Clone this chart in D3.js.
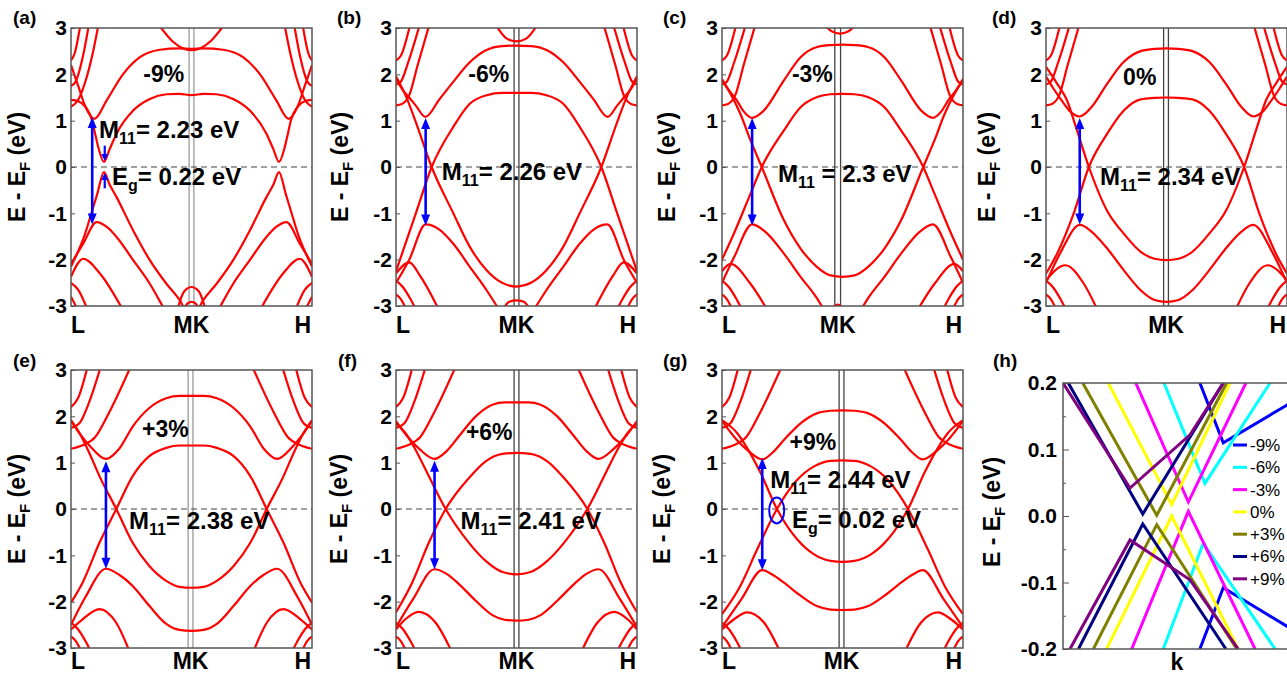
<!DOCTYPE html>
<html>
<head>
<meta charset="utf-8">
<script src="https://cdn.jsdelivr.net/npm/d3@7"></script>
<style>
  body { margin: 0; background: #fff; }
  svg { display: block; font-family: "Liberation Sans", Arial, sans-serif; }
</style>
</head>
<body>
<div id="chart"></div>
<script>
// ---- data: band energies (eV) as [k, E] knots, k = 0 at L, 1 at H ----
const panelNames = ["(a)", "(b)", "(c)", "(d)", "(e)", "(f)", "(g)", "(h)"];
const strainLabels = ["-9%", "-6%", "-3%", "0%", "+3%", "+6%", "+9%"];
const m11Values = ["= 2.23 eV", "= 2.26 eV", " = 2.3 eV", "= 2.34 eV", "= 2.38 eV", "= 2.41 eV", "= 2.44 eV"];
const egValues = { 0: "= 0.22 eV", 6: "= 0.02 eV" };
const yTicks = [-3, -2, -1, 0, 1, 2, 3];

const bandsA = [
  [[0,1.45],[0.03,1.42],[0.06,1.3],[0.088,1.0],[0.1,0.72],[0.113,0.43],[0.137,0.11],[0.16,0.38],[0.189,0.72],[0.258,1.22],[0.327,1.47],[0.396,1.57],[0.45,1.58],[0.5,1.55],[0.55,1.58],[0.604,1.57],[0.673,1.47],[0.742,1.22],[0.811,0.72],[0.84,0.38],[0.863,0.11],[0.887,0.43],[0.9,0.72],[0.912,1.0],[0.94,1.3],[0.97,1.42],[1,1.45]],
  [[0,-2.15],[0.013,-2.01],[0.054,-1.51],[0.088,-0.94],[0.109,-0.58],[0.137,-0.11],[0.16,-0.38],[0.189,-0.65],[0.258,-1.37],[0.327,-2.01],[0.396,-2.52],[0.452,-2.88],[0.5,-3.3],[0.548,-2.88],[0.604,-2.52],[0.673,-2.01],[0.742,-1.37],[0.811,-0.65],[0.84,-0.38],[0.863,-0.11],[0.891,-0.58],[0.912,-0.94],[0.946,-1.51],[0.987,-2.01],[1,-2.15]],
  [[0,2.2],[0.03,1.75],[0.06,1.3],[0.097,1.04],[0.148,1.44],[0.217,2.01],[0.286,2.37],[0.369,2.53],[0.45,2.56],[0.5,2.55],[0.55,2.56],[0.631,2.53],[0.714,2.37],[0.783,2.01],[0.852,1.44],[0.903,1.04],[0.94,1.3],[0.97,1.75],[1,2.2]],
  [[0,-2.09],[0.051,-1.65],[0.106,-1.19],[0.15,-1.3],[0.189,-1.51],[0.258,-2.01],[0.327,-2.52],[0.369,-2.9],[0.39,-3.1]],
  [[0.61,-3.1],[0.631,-2.9],[0.673,-2.52],[0.742,-2.01],[0.811,-1.51],[0.85,-1.3],[0.894,-1.19],[0.949,-1.65],[1,-2.09]],
  [[0,-2.37],[0.051,-1.98],[0.12,-2.3],[0.217,-3.1]],
  [[0.783,-3.1],[0.88,-2.3],[0.949,-1.98],[1,-2.37]],
  [[0.36,3.1],[0.42,2.72],[0.47,2.55],[0.5,2.52],[0.53,2.55],[0.58,2.72],[0.64,3.1]],
  [[0.44,-3.1],[0.47,-2.68],[0.5,-2.59],[0.53,-2.68],[0.56,-3.1]],
  [[0.465,-3.1],[0.485,-2.94],[0.5,-2.91],[0.515,-2.94],[0.535,-3.1]]
];
const edgeBandsA = [
  [[0,1.3],[0.03,1.45],[0.06,1.85],[0.09,2.45],[0.115,3.1]],
  [[0,1.75],[0.02,1.85],[0.05,2.4],[0.075,3.1]],
  [[0,2.3],[0.015,2.45],[0.04,3.1]],
  [[0.885,3.1],[0.91,2.45],[0.94,1.85],[0.97,1.45],[1,1.3]],
  [[0.925,3.1],[0.95,2.4],[0.98,1.85],[1,1.75]],
  [[0.96,3.1],[0.985,2.45],[1,2.3]],
  [[0,-2.5],[0.03,-2.65],[0.07,-3.1]],
  [[0,-2.8],[0.03,-3.1]],
  [[0.93,-3.1],[0.97,-2.65],[1,-2.5]],
  [[0.97,-3.1],[1,-2.8]]
];

const bandsB = [
  [[0,-2.25],[0.083,-0.99],[0.148,0],[0.237,0.86],[0.307,1.37],[0.376,1.55],[0.44,1.6],[0.5,1.6],[0.56,1.6],[0.624,1.55],[0.693,1.37],[0.763,0.86],[0.852,0],[0.917,-0.99],[1,-2.25]],
  [[0,1.96],[0.041,1.53],[0.083,0.96],[0.148,0],[0.237,-0.99],[0.307,-1.73],[0.376,-2.23],[0.44,-2.5],[0.5,-2.58],[0.56,-2.5],[0.624,-2.23],[0.693,-1.73],[0.763,-0.99],[0.852,0],[0.917,0.96],[0.959,1.53],[1,1.96]],
  [[0,1.9],[0.03,1.65],[0.055,1.5],[0.083,1.32],[0.122,1.08],[0.18,1.46],[0.235,1.82],[0.304,2.25],[0.373,2.52],[0.44,2.61],[0.5,2.62],[0.56,2.61],[0.627,2.52],[0.696,2.25],[0.765,1.82],[0.82,1.46],[0.878,1.08],[0.917,1.32],[0.945,1.5],[0.97,1.65],[1,1.9]],
  [[0,-2.5],[0.055,-2.0],[0.123,-1.24],[0.18,-1.35],[0.237,-1.65],[0.307,-2.16],[0.376,-2.66],[0.43,-3.1]],
  [[0.57,-3.1],[0.624,-2.66],[0.693,-2.16],[0.763,-1.65],[0.82,-1.35],[0.877,-1.24],[0.945,-2.0],[1,-2.5]],
  [[0,-2.3],[0.055,-2.06],[0.1,-2.35],[0.18,-3.1]],
  [[0.82,-3.1],[0.9,-2.35],[0.945,-2.06],[1,-2.3]],
  [[0.41,3.1],[0.46,2.77],[0.5,2.71],[0.54,2.77],[0.59,3.1]],
  [[0.44,-3.1],[0.47,-2.91],[0.5,-2.88],[0.53,-2.91],[0.56,-3.1]]
];

const bandsC = [
  [[0,-2.0],[0.049,-1.44],[0.118,-0.58],[0.165,0],[0.257,0.79],[0.326,1.29],[0.395,1.51],[0.45,1.57],[0.5,1.58],[0.55,1.57],[0.605,1.51],[0.674,1.29],[0.743,0.79],[0.835,0],[0.882,-0.58],[0.951,-1.44],[1,-2.0]],
  [[0,1.87],[0.035,1.58],[0.076,1.15],[0.118,0.58],[0.165,0],[0.257,-1.15],[0.326,-1.76],[0.395,-2.16],[0.45,-2.34],[0.5,-2.37],[0.55,-2.34],[0.605,-2.16],[0.674,-1.76],[0.743,-1.15],[0.835,0],[0.882,0.58],[0.924,1.15],[0.965,1.58],[1,1.87]],
  [[0,1.9],[0.03,1.65],[0.06,1.45],[0.09,1.2],[0.125,1.06],[0.17,1.2],[0.257,1.87],[0.326,2.37],[0.395,2.59],[0.45,2.63],[0.5,2.64],[0.55,2.63],[0.605,2.59],[0.674,2.37],[0.743,1.87],[0.83,1.2],[0.875,1.06],[0.91,1.2],[0.94,1.45],[0.97,1.65],[1,1.9]],
  [[0,-2.5],[0.05,-1.95],[0.125,-1.24],[0.18,-1.4],[0.257,-1.87],[0.326,-2.37],[0.395,-2.84],[0.425,-3.1]],
  [[0.575,-3.1],[0.605,-2.84],[0.674,-2.37],[0.743,-1.87],[0.82,-1.4],[0.875,-1.24],[0.95,-1.95],[1,-2.5]],
  [[0,-2.25],[0.035,-2.09],[0.118,-2.52],[0.19,-3.1]],
  [[0.81,-3.1],[0.882,-2.52],[0.965,-2.09],[1,-2.25]],
  [[0.42,3.1],[0.455,2.93],[0.49,2.88],[0.525,2.93],[0.56,3.1]],
  [[0.45,-3.1],[0.48,-2.97],[0.51,-3.1]]
];

const bandsD = [
  [[0,-2.3],[0.046,-1.87],[0.115,-1.0],[0.178,0],[0.254,0.72],[0.323,1.22],[0.393,1.46],[0.45,1.49],[0.5,1.5],[0.55,1.49],[0.607,1.46],[0.677,1.22],[0.746,0.72],[0.822,0],[0.885,-1.0],[0.954,-1.87],[1,-2.3]],
  [[0,2.16],[0.046,1.8],[0.087,1.44],[0.122,0.9],[0.178,0],[0.254,-0.95],[0.323,-1.44],[0.393,-1.83],[0.45,-1.98],[0.5,-2.01],[0.55,-1.98],[0.607,-1.83],[0.677,-1.44],[0.746,-0.95],[0.822,0],[0.878,0.9],[0.913,1.44],[0.954,1.8],[1,2.16]],
  [[0,1.95],[0.03,1.7],[0.07,1.4],[0.1,1.2],[0.14,1.09],[0.19,1.3],[0.254,1.8],[0.323,2.27],[0.393,2.5],[0.45,2.55],[0.5,2.56],[0.55,2.55],[0.607,2.5],[0.677,2.27],[0.746,1.8],[0.81,1.3],[0.86,1.09],[0.9,1.2],[0.93,1.4],[0.97,1.7],[1,1.95]],
  [[0,-2.5],[0.06,-1.85],[0.14,-1.25],[0.19,-1.4],[0.254,-1.76],[0.323,-2.23],[0.393,-2.66],[0.45,-2.87],[0.5,-2.91],[0.55,-2.87],[0.607,-2.66],[0.677,-2.23],[0.746,-1.76],[0.81,-1.4],[0.86,-1.25],[0.94,-1.85],[1,-2.5]],
  [[0,-2.45],[0.08,-2.12],[0.157,-2.52],[0.215,-3.1]],
  [[0.785,-3.1],[0.843,-2.52],[0.92,-2.12],[1,-2.45]]
];

const bandsE = [
  [[0,-2.02],[0.048,-1.59],[0.118,-0.73],[0.188,0],[0.256,0.71],[0.325,1.14],[0.395,1.32],[0.45,1.37],[0.5,1.37],[0.55,1.37],[0.605,1.32],[0.675,1.14],[0.744,0.71],[0.812,0],[0.882,-0.73],[0.952,-1.59],[1,-2.02]],
  [[0,1.92],[0.035,1.64],[0.076,1.21],[0.118,0.71],[0.188,0],[0.256,-0.73],[0.325,-1.23],[0.395,-1.55],[0.45,-1.68],[0.5,-1.7],[0.55,-1.68],[0.605,-1.55],[0.675,-1.23],[0.744,-0.73],[0.812,0],[0.882,0.71],[0.924,1.21],[0.965,1.64],[1,1.92]],
  [[0,1.9],[0.04,1.6],[0.08,1.35],[0.145,1.08],[0.2,1.3],[0.256,1.78],[0.325,2.18],[0.395,2.39],[0.45,2.44],[0.5,2.44],[0.55,2.44],[0.605,2.39],[0.675,2.18],[0.744,1.78],[0.8,1.3],[0.855,1.08],[0.92,1.35],[0.96,1.6],[1,1.9]],
  [[0,-2.5],[0.06,-1.9],[0.145,-1.29],[0.2,-1.42],[0.256,-1.66],[0.325,-2.09],[0.395,-2.48],[0.45,-2.61],[0.5,-2.63],[0.55,-2.61],[0.605,-2.48],[0.675,-2.09],[0.744,-1.66],[0.8,-1.42],[0.855,-1.29],[0.94,-1.9],[1,-2.5]],
  [[0,-2.6],[0.048,-2.38],[0.118,-2.16],[0.187,-2.45],[0.245,-3.1]],
  [[0.755,-3.1],[0.813,-2.45],[0.882,-2.16],[0.952,-2.38],[1,-2.6]]
];

const bandsF = [
  [[0,-2.23],[0.067,-1.59],[0.136,-0.73],[0.206,0],[0.303,0.67],[0.372,1.03],[0.442,1.19],[0.5,1.21],[0.558,1.19],[0.628,1.03],[0.697,0.67],[0.794,0],[0.864,-0.73],[0.933,-1.59],[1,-2.23]],
  [[0,1.85],[0.039,1.64],[0.081,1.28],[0.136,0.71],[0.206,0],[0.303,-0.73],[0.372,-1.12],[0.442,-1.36],[0.5,-1.41],[0.558,-1.36],[0.628,-1.12],[0.697,-0.73],[0.794,0],[0.864,0.71],[0.919,1.28],[0.961,1.64],[1,1.85]],
  [[0,1.9],[0.05,1.55],[0.1,1.28],[0.16,1.08],[0.21,1.25],[0.261,1.57],[0.331,2.0],[0.4,2.25],[0.45,2.3],[0.5,2.3],[0.55,2.3],[0.6,2.25],[0.669,2.0],[0.739,1.57],[0.79,1.25],[0.84,1.08],[0.9,1.28],[0.95,1.55],[1,1.9]],
  [[0,-2.55],[0.07,-1.95],[0.16,-1.3],[0.21,-1.4],[0.261,-1.62],[0.331,-1.98],[0.4,-2.29],[0.45,-2.39],[0.5,-2.41],[0.55,-2.39],[0.6,-2.29],[0.669,-1.98],[0.739,-1.62],[0.79,-1.4],[0.84,-1.3],[0.93,-1.95],[1,-2.55]],
  [[0,-2.6],[0.039,-2.38],[0.094,-2.22],[0.164,-2.45],[0.233,-3.1]],
  [[0.767,-3.1],[0.836,-2.45],[0.906,-2.22],[0.961,-2.38],[1,-2.6]]
];

const bandsG = [
  [[0,-2.27],[0.076,-1.66],[0.146,-0.87],[0.227,-0.01],[0.3125,0.63],[0.382,0.92],[0.451,1.04],[0.5,1.05],[0.549,1.04],[0.618,0.92],[0.6875,0.63],[0.773,-0.01],[0.854,-0.87],[0.924,-1.66],[1,-2.27]],
  [[0,1.92],[0.0625,1.64],[0.104,1.32],[0.16,0.78],[0.227,0.01],[0.3125,-0.66],[0.382,-0.98],[0.451,-1.12],[0.5,-1.14],[0.549,-1.12],[0.618,-0.98],[0.6875,-0.66],[0.773,0.01],[0.84,0.78],[0.896,1.32],[0.9375,1.64],[1,1.92]],
  [[0,1.9],[0.06,1.5],[0.11,1.25],[0.167,1.07],[0.21,1.22],[0.257,1.49],[0.326,1.85],[0.396,2.07],[0.45,2.12],[0.5,2.13],[0.55,2.12],[0.604,2.07],[0.674,1.85],[0.743,1.49],[0.79,1.22],[0.833,1.07],[0.89,1.25],[0.94,1.5],[1,1.9]],
  [[0,-2.55],[0.08,-1.95],[0.167,-1.32],[0.21,-1.42],[0.257,-1.59],[0.326,-1.87],[0.396,-2.1],[0.45,-2.17],[0.5,-2.18],[0.55,-2.17],[0.604,-2.1],[0.674,-1.87],[0.743,-1.59],[0.79,-1.42],[0.833,-1.32],[0.92,-1.95],[1,-2.55]],
  [[0,-2.6],[0.05,-2.38],[0.104,-2.23],[0.174,-2.45],[0.243,-3.1]],
  [[0.757,-3.1],[0.826,-2.45],[0.896,-2.23],[0.95,-2.38],[1,-2.6]]
];

// steep bands crowding the L and H edges
const edgeBandsBD = [
  [[0,1.33],[0.025,1.36],[0.055,1.55],[0.09,2.2],[0.14,3.1]],
  [[0,1.78],[0.02,1.84],[0.05,2.25],[0.1,3.1]],
  [[0,2.3],[0.02,2.4],[0.06,3.1]],
  [[0.86,3.1],[0.91,2.2],[0.945,1.55],[0.975,1.36],[1,1.33]],
  [[0.9,3.1],[0.95,2.25],[0.98,1.84],[1,1.78]],
  [[0.94,3.1],[0.98,2.4],[1,2.3]],
  [[0,-2.45],[0.03,-2.6],[0.06,-2.85],[0.085,-3.1]],
  [[0,-2.75],[0.02,-2.85],[0.045,-3.1]],
  [[0.915,-3.1],[0.94,-2.85],[0.97,-2.6],[1,-2.45]],
  [[0.955,-3.1],[0.98,-2.85],[1,-2.75]]
];
const edgeBandsEG = [
  [[0,1.3],[0.05,1.38],[0.1,1.55],[0.16,2.1],[0.25,3.1]],
  [[0,1.75],[0.035,1.85],[0.075,2.3],[0.125,3.1]],
  [[0,2.2],[0.03,2.4],[0.07,3.1]],
  [[0.75,3.1],[0.84,2.1],[0.9,1.55],[0.95,1.38],[1,1.3]],
  [[0.875,3.1],[0.925,2.3],[0.965,1.85],[1,1.75]],
  [[0.93,3.1],[0.97,2.4],[1,2.2]],
  [[0,-2.45],[0.03,-2.6],[0.06,-2.85],[0.085,-3.1]],
  [[0,-2.75],[0.02,-2.85],[0.045,-3.1]],
  [[0.915,-3.1],[0.94,-2.85],[0.97,-2.6],[1,-2.45]],
  [[0.955,-3.1],[0.98,-2.85],[1,-2.75]]
];

// M and K positions along k for each panel
const mkK = [[0.49,0.51],[0.49,0.51],[0.468,0.492],[0.488,0.508],[0.486,0.506],[0.49,0.51],[0.486,0.506]];
// M11 transition: k of arrow, top (CB) and bottom (VB) energies
const arrowK = [0.088, 0.123, 0.125, 0.14, 0.145, 0.16, 0.167];
const arrowTop = [1.08, 1.06, 1.06, 1.06, 1.03, 1.04, 1.1];
const arrowBottom = [-1.24, -1.26, -1.26, -1.24, -1.29, -1.30, -1.32];

// (h) zoom near EF: conduction / valence branches per strain
const zoomLabels = ["-9%", "-6%", "-3%", "0%", "+3%", "+6%", "+9%"];
const zoomColors = ["#0000ff", "#00ffff", "#ff00ff", "#ffff00", "#808000", "#000080", "#800080"];
const zoomCB = [
  [[0.568,0.2],[0.665,0.11],[0.93,0.167],[1,0.182]],
  [[0.419,0.2],[0.589,0.049],[0.859,0.2]],
  [[0.302,0.2],[0.52,0.021],[0.759,0.2]],
  [[0.188,0.2],[0.451,0.017],[0.693,0.2]],
  [[0.082,0.2],[0.389,0.001],[0.679,0.2]],
  [[0.022,0.2],[0.331,0.003],[0.665,0.2]],
  [[0,0.2],[0.278,0.042],[0.527,0.122],[0.665,0.2]]
];
const zoomVB = [
  [[0.568,-0.2],[0.665,-0.108],[0.93,-0.166],[1,-0.18]],
  [[0.416,-0.2],[0.582,-0.041],[0.88,-0.2]],
  [[0.285,-0.2],[0.52,0.007],[0.797,-0.2]],
  [[0.181,-0.2],[0.451,0.0],[0.727,-0.2]],
  [[0.126,-0.2],[0.389,-0.013],[0.721,-0.2]],
  [[0.064,-0.2],[0.331,-0.012],[0.676,-0.2]],
  [[0.029,-0.2],[0.278,-0.036],[0.527,-0.096],[0.727,-0.2]]
];
const zoomTicks = [-0.2, -0.1, 0, 0.1, 0.2];
const zoomMinor = [-0.15, -0.05, 0.05, 0.15];

// ---- layout ----
const W = 1287, H = 676;
const colLeft = [71, 396, 722, 1046], rowTop = [28, 370];
const pw = 241, ph = 278;
const kLabelDy = [27, 21];
const labelX = [13, 337, 663, 992, 13, 338, 663, 993];
const labelY = [24, 24, 24, 24, 367, 367, 367, 367];
const titleDx = [-46, -48, -47, -51, -46, -49, -52];
const strainPos = [[0.3,1.83],[0.3,1.83],[0.29,1.83],[0.32,1.77],[0.295,1.56],[0.29,1.49],[0.28,1.28]];
const m11Pos = [[0.116,0.63],[0.19,-0.28],[0.232,-0.32],[0.224,-0.39],[0.241,-0.44],[0.268,-0.44],[0.2,0.46]];
const egPos = { 0: [0.17,-0.39], 6: [0.29,-0.40] };
const mkColor = ["#999", "#444", "#444", "#444", "#999", "#444", "#444"];
const BLUE = "#0000ff";

const panelBands = [
  bandsA.concat(edgeBandsA), bandsB.concat(edgeBandsBD), bandsC.concat(edgeBandsBD),
  bandsD.concat(edgeBandsBD), bandsE.concat(edgeBandsEG), bandsF.concat(edgeBandsEG),
  bandsG.concat(edgeBandsEG)
];

const svg = d3.select("#chart").append("svg").attr("width", W).attr("height", H);

function yTitle(g, dx, cy) {
  const t = g.append("text")
    .attr("transform", `translate(${dx},${cy}) rotate(-90)`)
    .attr("text-anchor", "middle")
    .attr("font-size", 23).attr("font-weight", "bold");
  t.append("tspan").text("E - E");
  t.append("tspan").attr("font-size", 15).attr("dy", 5).text("F");
  t.append("tspan").attr("dy", -5).text(" (eV)");
}

function arrowHead(g, x0, y0, dir, w, l) {
  // dir -1: tip points up, +1: tip points down
  g.append("path")
    .attr("d", `M${x0},${y0} L${x0 - w / 2},${y0 - dir * l} L${x0 + w / 2},${y0 - dir * l} Z`)
    .attr("fill", BLUE);
}

panelBands.forEach((bands, i) => {
  const row = Math.floor(i / 4);
  const g = svg.append("g")
    .attr("transform", `translate(${colLeft[i % 4]},${rowTop[row]})`);
  const x = d3.scaleLinear().domain([0, 1]).range([0, pw]);
  const y = d3.scaleLinear().domain([-3, 3]).range([ph, 0]);

  g.append("clipPath").attr("id", "clip" + i)
    .append("rect").attr("width", pw).attr("height", ph);

  // MK lines
  mkK[i].forEach(k => {
    g.append("line")
      .attr("x1", x(k)).attr("x2", x(k)).attr("y1", 0).attr("y2", ph)
      .attr("stroke", mkColor[i]).attr("stroke-width", 1.3);
  });

  // Fermi level
  g.append("line")
    .attr("x1", 0).attr("x2", pw).attr("y1", y(0)).attr("y2", y(0))
    .attr("stroke", "#444").attr("stroke-width", 1.2).attr("stroke-dasharray", "6,4");

  const line = d3.line().x(d => x(d[0])).y(d => y(d[1])).curve(d3.curveMonotoneX);
  g.append("g").attr("clip-path", `url(#clip${i})`)
    .selectAll("path").data(bands).enter().append("path")
    .attr("d", line)
    .attr("fill", "none").attr("stroke", "#ff0000").attr("stroke-width", 2.2);

  // frame
  g.append("rect").attr("width", pw).attr("height", ph)
    .attr("fill", "none").attr("stroke", "#555").attr("stroke-width", 1.5);

  // y axis
  const ax = g.append("g").call(d3.axisLeft(y).tickValues(yTicks).tickSize(-4).tickPadding(4)
    .tickFormat(d => String(d)));
  ax.select(".domain").remove();
  ax.selectAll(".tick line").attr("stroke", "#555");
  ax.selectAll("text").attr("font-size", 21).attr("font-weight", "bold")
    .attr("font-family", "Liberation Sans, Arial, sans-serif").attr("fill", "#000");

  // k labels
  const kl = g.append("g").attr("font-size", 23).attr("font-weight", "bold");
  kl.append("text").attr("x", 0).attr("y", ph + kLabelDy[row]).text("L");
  kl.append("text").attr("x", x((mkK[i][0] + mkK[i][1]) / 2)).attr("y", ph + kLabelDy[row])
    .attr("text-anchor", "middle").text("MK");
  kl.append("text").attr("x", pw - 1).attr("y", ph + kLabelDy[row]).attr("text-anchor", "end").text("H");

  yTitle(g, titleDx[i], ph / 2);

  // M11 arrow
  const ak = x(arrowK[i]), yt = y(arrowTop[i]), yb = y(arrowBottom[i]);
  g.append("line").attr("x1", ak).attr("x2", ak).attr("y1", yt + 9).attr("y2", yb - 9)
    .attr("stroke", BLUE).attr("stroke-width", 2.6);
  arrowHead(g, ak, yt, -1, 9, 11);
  arrowHead(g, ak, yb, 1, 9, 11);

  // strain label
  g.append("text").attr("x", x(strainPos[i][0])).attr("y", y(strainPos[i][1]))
    .attr("font-size", 23).attr("font-weight", "bold").text(strainLabels[i]);

  // M11 label
  const mt = g.append("text").attr("x", x(m11Pos[i][0])).attr("y", y(m11Pos[i][1]))
    .attr("font-size", 24).attr("font-weight", "bold");
  mt.append("tspan").text("M");
  mt.append("tspan").attr("font-size", 16).attr("dy", 6).text("11");
  mt.append("tspan").attr("dy", -6).text(m11Values[i]);

  if (egValues[i]) {
    const et = g.append("text").attr("x", x(egPos[i][0])).attr("y", y(egPos[i][1]))
      .attr("font-size", 24).attr("font-weight", "bold");
    et.append("tspan").text("E");
    et.append("tspan").attr("font-size", 16).attr("dy", 6).text("g");
    et.append("tspan").attr("dy", -6).text(egValues[i]);
  }

  if (i === 0) {
    // small arrows marking the gap edges
    const sk = x(0.14);
    g.append("line").attr("x1", sk).attr("x2", sk).attr("y1", y(0.46)).attr("y2", y(0.2))
      .attr("stroke", BLUE).attr("stroke-width", 2.2);
    arrowHead(g, sk, y(0.13), 1, 7, 7);
    g.append("line").attr("x1", sk).attr("x2", sk).attr("y1", y(-0.46)).attr("y2", y(-0.2))
      .attr("stroke", BLUE).attr("stroke-width", 2.2);
    arrowHead(g, sk, y(-0.13), -1, 7, 7);
  }
  if (i === 6) {
    g.append("ellipse").attr("cx", x(0.227)).attr("cy", y(-0.03))
      .attr("rx", 7.5).attr("ry", 13)
      .attr("fill", "none").attr("stroke", BLUE).attr("stroke-width", 2);
  }
});

// panel labels
panelNames.forEach((n, i) => {
  svg.append("text").attr("x", labelX[i]).attr("y", labelY[i])
    .attr("font-size", 19).attr("font-weight", "bold").text(n);
});

// ---- panel (h) ----
{
  const hl = 1063, ht = 383, hw = 241, hh = 266;
  const g = svg.append("g").attr("transform", `translate(${hl},${ht})`);
  const x = d3.scaleLinear().domain([0, 1]).range([0, hw]);
  const y = d3.scaleLinear().domain([-0.2, 0.2]).range([hh, 0]);

  g.append("clipPath").attr("id", "cliph")
    .append("rect").attr("width", hw).attr("height", hh);

  const line = d3.line().x(d => x(d[0])).y(d => y(d[1]));
  const lines = g.append("g").attr("clip-path", "url(#cliph)");
  zoomLabels.forEach((lab, j) => {
    [zoomCB[j], zoomVB[j]].forEach(br => {
      lines.append("path").attr("d", line(br))
        .attr("fill", "none").attr("stroke", zoomColors[j]).attr("stroke-width", 3);
    });
  });

  g.append("rect").attr("width", hw).attr("height", hh)
    .attr("fill", "none").attr("stroke", "#555").attr("stroke-width", 1.5);

  const ax = g.append("g").call(d3.axisLeft(y).tickValues(zoomTicks).tickSize(-6).tickPadding(6)
    .tickFormat(d => d.toFixed(1)));
  ax.select(".domain").remove();
  ax.selectAll(".tick line").attr("stroke", "#555");
  ax.selectAll("text").attr("font-size", 21).attr("font-weight", "bold")
    .attr("font-family", "Liberation Sans, Arial, sans-serif").attr("fill", "#000");
  const mx = g.append("g").call(d3.axisLeft(y).tickValues(zoomMinor).tickSize(-3).tickFormat(""));
  mx.select(".domain").remove();
  mx.selectAll(".tick line").attr("stroke", "#555");

  g.append("text").attr("x", 114).attr("y", hh + 21).attr("text-anchor", "middle")
    .attr("font-size", 23).attr("font-weight", "bold").text("k");

  yTitle(g, -63, hh / 2 - 4);

  // legend
  const lg = g.append("g").attr("transform", "translate(170,62)");
  zoomLabels.forEach((lab, j) => {
    const row = lg.append("g").attr("transform", `translate(0,${j * 22.3})`);
    row.append("line").attr("x1", 0).attr("x2", 14).attr("stroke", zoomColors[j]).attr("stroke-width", 3);
    row.append("text").attr("x", 17).attr("dy", "0.35em").attr("font-size", 17).text(lab);
  });
}
</script>
</body>
</html>
